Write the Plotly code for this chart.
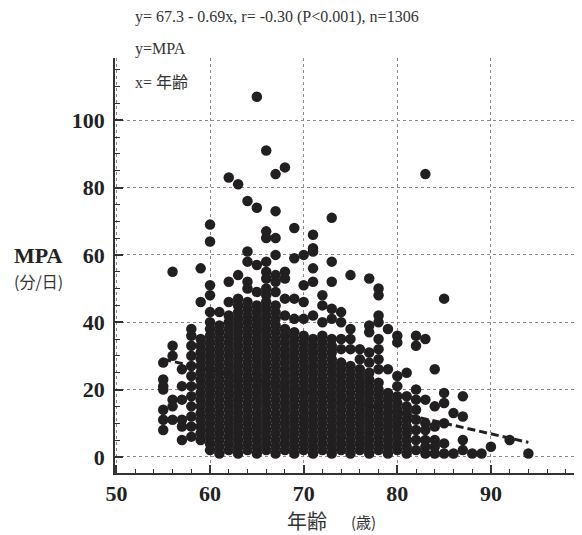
import plotly.graph_objects as go

# ---- data (age in years, MPA in min/day) ----
ages = [55, 56, 57, 58, 59, 60, 61, 62, 63, 64, 65, 66, 67, 68, 69, 70, 71, 72,
        73, 74, 75, 76, 77, 78, 79, 80, 81, 82, 83, 84, 85, 86, 87, 88, 89, 90, 92, 94]

mpa_by_age = [
    [28, 23, 21, 20, 14, 11, 8],                                   # 55
    [55, 33, 30, 17, 15, 11],                                      # 56
    [26, 21, 17, 11, 9, 5],                                        # 57
    [38, 36, 33, 30, 27, 24, 21, 18, 15, 12, 9, 6],                # 58
    [56, 46, 35, 33, 31, 29, 27, 25, 23, 21, 19, 17, 15, 13, 11, 9, 7, 5],          # 59
    [69, 64, 51, 48, 43, 40, 38, 36, 34, 32, 30, 28, 26, 24, 22, 20, 18, 16, 14,
     12, 10, 8, 6, 4, 2],                                          # 60
    [43, 39, 37, 35, 33, 31, 29, 27, 25, 23, 21, 19, 17, 15, 13, 11, 9, 7, 5, 3, 1],  # 61
    [83, 52, 46, 42, 40, 38, 36, 34, 32, 30, 28, 26, 24, 22, 20, 18, 16, 14, 12,
     10, 8, 6, 4, 2],                                              # 62
    [81, 54, 47, 45, 43, 41, 39, 37, 35, 33, 31, 29, 27, 25, 23, 21, 19, 17, 15,
     13, 11, 9, 7, 5, 3, 1],                                       # 63
    [76, 61, 58, 52, 50, 46, 44, 42, 40, 38, 36, 34, 32, 30, 28, 26, 24, 22, 20,
     18, 16, 14, 12, 10, 8, 6, 4, 2],                              # 64
    [107, 74, 57, 49, 45, 43, 41, 39, 37, 35, 33, 31, 29, 27, 25, 23, 21, 19, 17,
     15, 13, 11, 9, 7, 5, 3, 1],                                   # 65
    [91, 67, 65, 58, 55, 53, 50, 48, 46, 44, 42, 40, 38, 36, 34, 32, 30, 28, 26,
     24, 22, 20, 18, 16, 14, 12, 10, 8, 6, 4, 2],                  # 66
    [84, 73, 65, 60, 54, 52, 49, 45, 43, 41, 39, 37, 35, 33, 31, 29, 27, 25, 23,
     21, 19, 17, 15, 13, 11, 9, 7, 5, 3, 1],                       # 67
    [86, 55, 53, 47, 42, 38, 36, 34, 32, 30, 28, 26, 24, 22, 20, 18, 16, 14, 12,
     10, 8, 6, 4, 2],                                              # 68
    [68, 59, 47, 41, 37, 35, 33, 31, 29, 27, 25, 23, 21, 19, 17, 15, 13, 11, 9,
     7, 5, 3, 1],                                                  # 69
    [60, 51, 46, 41, 36, 34, 32, 30, 28, 26, 24, 22, 20, 18, 16, 14, 12, 10, 8,
     6, 4, 2],                                                     # 70
    [66, 62, 61, 56, 52, 42, 35, 33, 31, 29, 27, 25, 23, 21, 19, 17, 15, 13, 11,
     9, 7, 5, 3, 1],                                               # 71
    [48, 45, 40, 36, 34, 32, 30, 28, 26, 24, 22, 20, 18, 16, 14, 12, 10, 8, 6,
     4, 2],                                                        # 72
    [71, 58, 52, 44, 41, 35, 33, 31, 29, 27, 25, 23, 21, 19, 17, 15, 13, 11, 9,
     7, 5, 3, 1],                                                  # 73
    [43, 40, 35, 32, 28, 26, 24, 22, 20, 18, 16, 14, 12, 10, 8, 6, 4, 2],           # 74
    [54, 38, 35, 32, 27, 25, 23, 21, 19, 17, 15, 13, 11, 9, 7, 5, 3, 1],            # 75
    [32, 29, 26, 24, 22, 20, 18, 16, 14, 12, 10, 8, 6, 4, 2],                       # 76
    [53, 39, 37, 31, 28, 25, 23, 21, 19, 17, 15, 13, 11, 9, 7, 5, 3, 1],            # 77
    [50, 48, 42, 40, 35, 32, 29, 26, 22, 20, 18, 16, 14, 12, 10, 8, 6, 4, 2],       # 78
    [38, 26, 19, 17, 15, 13, 11, 9, 7, 5, 3, 1],                   # 79
    [36, 34, 24, 21, 18, 16, 14, 12, 10, 8, 6, 4, 2],              # 80
    [25, 18, 15, 13, 11, 9, 7, 5, 3, 1],                           # 81
    [36, 33, 20, 17, 14, 11, 8, 5, 2],                             # 82
    [84, 35, 17, 10, 8, 5, 3, 1],                                  # 83
    [26, 15, 9, 5, 3, 1],                                          # 84
    [47, 19, 16, 10, 4, 1],                                        # 85
    [13, 1],                                                       # 86
    [18, 12, 5, 2],                                                # 87
    [1],                                                           # 88
    [1],                                                           # 89
    [3],                                                           # 90
    [5],                                                           # 92
    [1],                                                           # 94
]

# regression line end points (dashed)
reg_x = [55, 94]
reg_y = [29.0, 4.3]

x_ticks = [50, 60, 70, 80, 90]
y_ticks = [0, 20, 40, 60, 80, 100]

stats_text = "y= 67.3 - 0.69x, r= -0.30 (P<0.001), n=1306"
y_def_text = "y=MPA"
x_def_text = "x= 年齢"

# ---- flatten ----
xs, ys = [], []
for a, vals in zip(ages, mpa_by_age):
    for v in vals:
        xs.append(a)
        ys.append(v)

INK = "#221f20"
fig = go.Figure()
fig.add_trace(go.Scatter(
    x=xs, y=ys, mode="markers",
    marker=dict(size=10.5, color=INK, line=dict(width=0)),
    hoverinfo="skip", showlegend=False))
fig.add_trace(go.Scatter(
    x=reg_x, y=reg_y, mode="lines",
    line=dict(color=INK, width=3, dash="8px,4px"),
    hoverinfo="skip", showlegend=False))

tickfont = dict(family="Liberation Serif", size=22, color="#222", weight="bold")
fig.update_xaxes(
    range=[49.85, 99.3], tickmode="array", tickvals=x_ticks,
    ticktext=[str(t) for t in x_ticks],
    showline=True, linecolor="#333", linewidth=1.5,
    ticks="inside", ticklen=8, tickwidth=1.5, tickcolor="#333",
    minor=dict(dtick=2, tick0=50, ticks="inside", ticklen=4, tickwidth=1, tickcolor="#333", showgrid=False),
    showgrid=True, gridcolor="#8a8a8a", gridwidth=1, griddash="dot",
    zeroline=False, tickfont=tickfont, ticklabelstandoff=0)
fig.update_yaxes(
    range=[-4.8, 118.5], tickmode="array", tickvals=y_ticks,
    ticktext=[str(t) for t in y_ticks],
    showline=True, linecolor="#333", linewidth=1.5,
    ticks="inside", ticklen=8, tickwidth=1.5, tickcolor="#333",
    minor=dict(dtick=5, tick0=0, ticks="inside", ticklen=5, tickwidth=1, tickcolor="#333", showgrid=False),
    showgrid=True, gridcolor="#8a8a8a", gridwidth=1, griddash="dot",
    zeroline=False, tickfont=tickfont, ticklabelstandoff=4)

annots = [
    dict(text=stats_text, x=0.0389, y=1.0988, xanchor="left", yanchor="middle",
         font=dict(family="Liberation Serif", size=16, color="#333")),
    dict(text=y_def_text, x=0.0389, y=1.0217, xanchor="left", yanchor="middle",
         font=dict(family="Liberation Serif", size=16, color="#333")),
    dict(text=x_def_text, x=0.0389, y=0.942, xanchor="left", yanchor="middle",
         font=dict(family="Liberation Serif, Noto Sans CJK JP", size=16, color="#333")),
    dict(text="MPA", x=-0.1663, y=0.525, xanchor="center", yanchor="middle",
         font=dict(family="Liberation Serif", size=22, color="#222", weight="bold")),
    dict(text="(分/日)", x=-0.1663, y=0.4627, xanchor="center", yanchor="middle",
         font=dict(family="Noto Sans CJK JP", size=16, color="#333")),
    dict(text="年齢", x=(307 - 115) / 463, y=(473 - 520) / 415, xanchor="center", yanchor="middle",
         font=dict(family="Noto Sans CJK JP", size=20, color="#333")),
    dict(text="(歳)", x=(363 - 115) / 463, y=(473 - 521) / 415, xanchor="center", yanchor="middle",
         font=dict(family="Noto Sans CJK JP", size=15, color="#333")),
]
for a in annots:
    a.update(xref="paper", yref="paper", showarrow=False)

# the page adds an 8 px body margin, so the figure is 8 px smaller and margins are shifted
fig.update_layout(
    width=574, height=527,
    margin=dict(l=107, r=4, t=50, b=62),
    paper_bgcolor="white", plot_bgcolor="white",
    annotations=annots, showlegend=False)

fig.write_html("out.html")
